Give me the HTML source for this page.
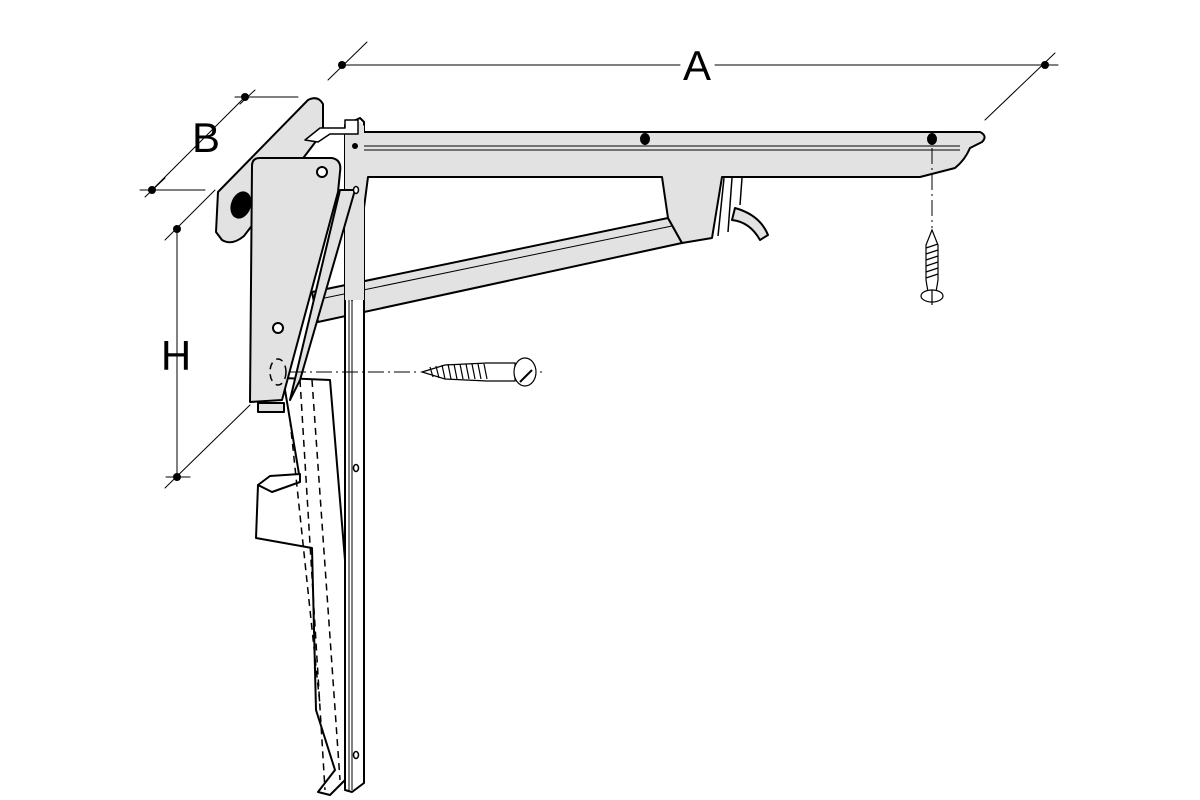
<!DOCTYPE html>
<html><head><meta charset="utf-8"><style>
html,body{margin:0;padding:0;background:#fff}
svg{display:block}
text{font-family:"Liberation Sans",sans-serif}
</style></head><body>
<svg width="1200" height="800" viewBox="0 0 1200 800" xmlns="http://www.w3.org/2000/svg">
<g stroke="#000" fill="none" stroke-linejoin="round" stroke-linecap="round">
<line x1="342" y1="65" x2="680" y2="65" stroke-width="1"/>
<line x1="715" y1="65" x2="1058" y2="65" stroke-width="1"/>
<line x1="328" y1="80" x2="367" y2="42" stroke-width="1"/>
<line x1="985" y1="120" x2="1055" y2="53" stroke-width="1"/>
<line x1="245" y1="97" x2="152" y2="190" stroke-width="1"/>
<line x1="235" y1="97" x2="298" y2="97" stroke-width="1"/>
<line x1="140" y1="190" x2="205" y2="190" stroke-width="1"/>
<line x1="145" y1="197" x2="165" y2="178" stroke-width="1"/>
<line x1="240" y1="104" x2="255" y2="90" stroke-width="1"/>
<line x1="177" y1="229" x2="177" y2="477" stroke-width="1"/>
<line x1="165" y1="240" x2="215" y2="190" stroke-width="1"/>
<line x1="165" y1="488" x2="250" y2="405" stroke-width="1"/>
<line x1="166" y1="477" x2="190" y2="477" stroke-width="1"/>
</g>
<g fill="#000">
<circle cx="342" cy="65" r="4"/><circle cx="1045" cy="65" r="4"/>
<circle cx="245" cy="97" r="4"/><circle cx="152" cy="190" r="4"/>
<circle cx="177" cy="229" r="4"/><circle cx="177" cy="477" r="4"/>
</g>
<text x="697" y="80" font-size="42" text-anchor="middle">A</text>
<text x="206" y="152" font-size="42" text-anchor="middle">B</text>
<text x="176" y="370" font-size="42" text-anchor="middle">H</text>

<g stroke="#000" stroke-width="2" stroke-linejoin="round" fill="#e2e2e2">
<path d="M283 378 L300 480 L258 485 L256 538 L312 548 L316 710 L335 770 L318 792 L330 795 L345 780 L345 560 L330 380 Z" fill="#fff"/>
<path d="M258 485 L270 476 L300 474 L300 482 L272 492 Z" fill="#fff"/>
<path d="M312 292 L668 218 L682 243 L318 322 Z"/>
<line x1="315" y1="300" x2="672" y2="226" stroke-width="1"/>
<path d="M345 125 L360 118 L364 122 L364 783 L352 792 L345 790 Z" fill="#fff"/>
<line x1="349" y1="130" x2="349" y2="790" stroke-width="1"/>
<line x1="352" y1="130" x2="352" y2="790" stroke-width="1"/>
<path d="M355 132 L980 132 Q988 136 982 142 L970 148 Q965 160 955 168 L920 177 L722 177 L712 238 L682 243 L668 218 L662 177 L368 177 L352 300 Z"/>
<line x1="360" y1="146" x2="960" y2="146" stroke-width="1"/>
<line x1="360" y1="150" x2="960" y2="150" stroke-width="1"/>
<path d="M724 178 L718 236 M732 178 L728 232 M742 178 L740 205" stroke-width="1.5" fill="none"/>
<path d="M735 208 Q760 215 768 235 L760 240 Q750 222 732 220 Z"/>
<path d="M345 130 L360 122 L364 126 L364 300 L345 300 Z" fill="#e2e2e2" stroke="none"/>
<path d="M218 192 L308 100 Q318 95 323 104 L323 132 L244 236 Q232 246 222 240 L216 232 Z"/>
<ellipse cx="241" cy="205" rx="9" ry="13" transform="rotate(20 241 205)" fill="#000"/>
<path d="M305 140 L320 128 L345 128 L345 120 L358 120 L358 134 L330 134 L318 142 Z" fill="#fff" stroke-width="1.5"/>
<circle cx="355" cy="146" r="3" fill="#000" stroke="none"/>
<path d="M252 166 Q252 158 260 158 L332 158 Q342 160 340 172 L338 192 L282 400 L250 402 Z"/>
<path d="M258 403 L284 403 L284 412 L258 412 Z"/>
<path d="M290 400 L340 190 L355 190 L300 380 Z" fill="#e2e2e2"/>
<circle cx="322" cy="172" r="5" fill="#fff"/>
<circle cx="278" cy="328" r="5" fill="#fff"/>
<ellipse cx="356" cy="190" rx="2.5" ry="3.5" fill="#fff" stroke-width="1.5"/>
<ellipse cx="356" cy="468" rx="2.5" ry="3.5" fill="#fff" stroke-width="1.5"/>
<ellipse cx="356" cy="755" rx="2.5" ry="3.5" fill="#fff" stroke-width="1.5"/>
<ellipse cx="645" cy="139" rx="4" ry="5" fill="#000"/>
<ellipse cx="932" cy="139" rx="4" ry="5" fill="#000"/>
</g>
<g stroke="#000" stroke-width="1.5" fill="none" stroke-dasharray="7 5">
<path d="M300 380 L325 790"/>
<path d="M312 380 L340 780"/>
<path d="M290 420 L320 705"/>
<ellipse cx="278" cy="372" rx="8" ry="13"/>
</g>
<g stroke="#000" stroke-width="1" stroke-dasharray="16 4 2 4" fill="none">
<line x1="290" y1="372" x2="420" y2="372"/>
<line x1="932" y1="148" x2="932" y2="228"/>
<line x1="520" y1="372" x2="542" y2="372"/>
</g>
<g stroke="#000" stroke-width="1.2" fill="#fff">
<path d="M422 372 L445 365 L487 363 L515 363 L515 381 L487 381 L445 379 Z"/>
<path d="M430 367 l3 10 M436 366 l3 12 M442 365 l3 14 M448 364 l3 15 M454 364 l3 15 M460 364 l3 15 M466 364 l3 15 M472 364 l3 15 M478 364 l3 15 M484 364 l3 15" fill="none"/>
<ellipse cx="525" cy="372" rx="11" ry="14"/>
<path d="M520 382 L532 370" stroke-width="2" fill="none"/>
</g>
<g stroke="#000" stroke-width="1.2" fill="#fff">
<path d="M932 230 L926 245 L926 280 L928 292 L936 292 L938 280 L938 245 Z"/>
<path d="M926 248 l12 -4 M926 254 l12 -4 M926 260 l12 -4 M926 266 l12 -4 M926 272 l12 -4 M926 278 l12 -4" fill="none"/>
<ellipse cx="932" cy="296" rx="11" ry="6"/>
<line x1="932" y1="290" x2="932" y2="305"/>
</g>
</svg>
</body></html>
